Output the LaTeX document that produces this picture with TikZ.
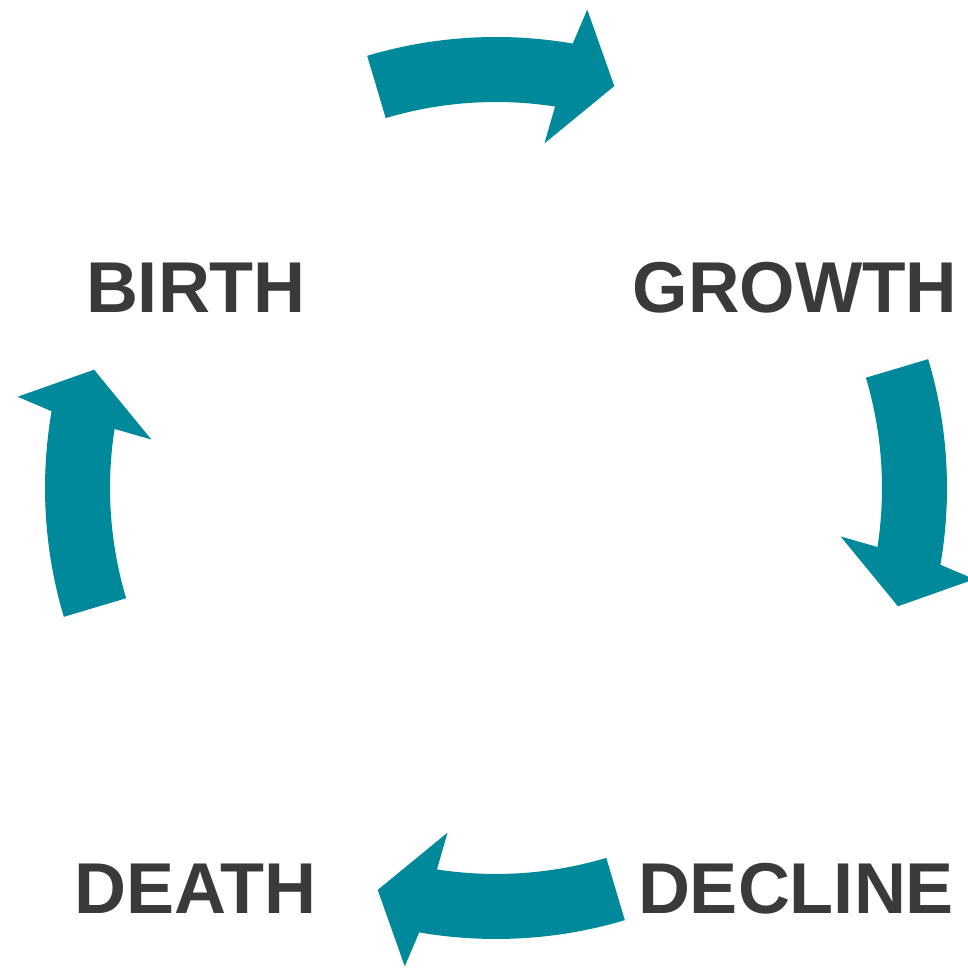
\documentclass[tikz,border=0pt]{standalone}
\usepackage{fontspec}
\setmainfont{Liberation Sans}
\definecolor{cyclecol}{RGB}{0,137,155}
\definecolor{textgray}{RGB}{58,58,58}
\newcommand\cycarrow[1]{%
  \fill[cyc] (#1+16.6:451) arc[start angle=#1+16.6, end angle=#1-9.8, radius=451pt]
    -- (#1-10.8:487) -- (#1-16.4:419) -- (#1-8.0:348) -- (#1-8.8:386)
    arc[start angle=#1-8.8, end angle=#1+16.6, radius=386pt] -- cycle;}
\begin{document}
\begin{tikzpicture}[x=1pt,y=1pt,
  lbl/.style={font=\fontsize{72}{72}\selectfont\bfseries, text=textgray, inner sep=0pt, anchor=base},
  cyc/.style={fill=cyclecol}]
\useasboundingbox (0,0) rectangle (967,973);
\begin{scope}[shift={(496,485)}]
  \cycarrow{90}
  \cycarrow{0}
  \cycarrow{-90}
  \cycarrow{180}
\end{scope}
\node[lbl] (birth) at (196,660) {BIRTH};
\node[lbl, xscale=0.99] (growth) at (795,660) {GROWTH};
\node[lbl] (decline) at (796,59) {DECLINE};
\node[lbl] (death) at (195.5,59) {DEATH};
\end{tikzpicture}
\end{document}
